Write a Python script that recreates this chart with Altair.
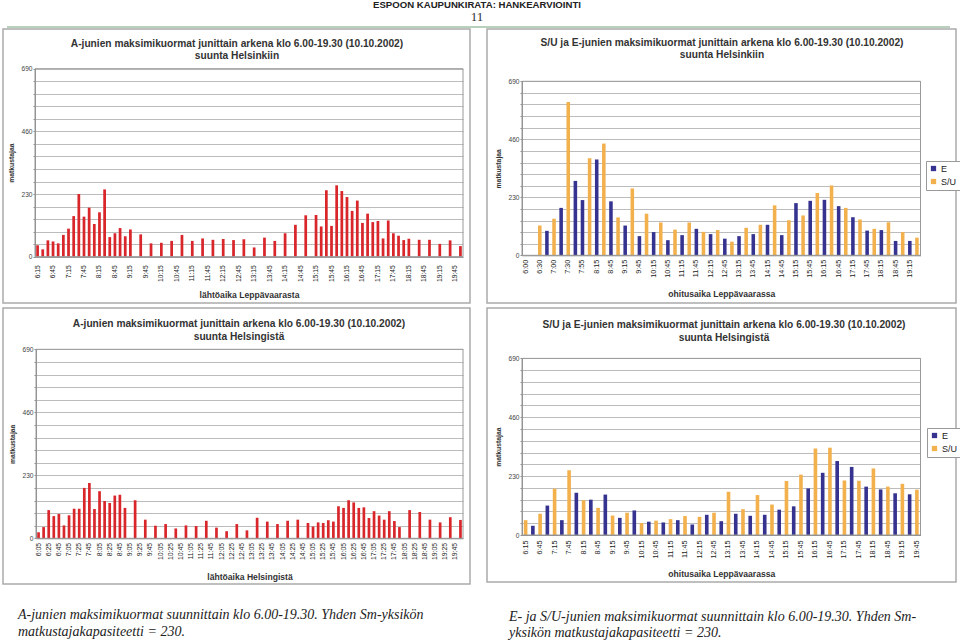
import altair as alt
import pandas as pd

W, H = 960, 642
RED = "#d8262b"
BLUE = "#35338f"
ORANGE = "#f2b14d"
SANS = "Liberation Sans"
SERIF = "Liberation Serif"


def slots(start, end, step):
    h, m = map(int, start.split(":"))
    eh, em = map(int, end.split(":"))
    t, out = h * 60 + m, []
    while t <= eh * 60 + em:
        out.append(f"{t // 60}:{t % 60:02d}")
        t += step
    return out


# ---------------- data ----------------
# A-trains towards Helsinki (departure from Leppävaara)
tl_times = ["6:15", "6:25", "6:35", "6:45", "6:55", "7:05", "7:15", "7:25", "7:35", "7:45",
            "7:55", "8:05", "8:15", "8:25", "8:35", "8:45", "8:55", "9:05", "9:15",
            "9:35", "9:55", "10:15", "10:35", "10:55", "11:15", "11:35", "11:55", "12:15",
            "12:35", "12:55", "13:15", "13:35", "13:55", "14:15", "14:35", "14:55", "15:15",
            "15:25", "15:35", "15:45", "15:55", "16:05", "16:15", "16:25", "16:35", "16:45",
            "16:55", "17:05", "17:15", "17:25", "17:35", "17:45", "17:55", "18:05", "18:15",
            "18:35", "18:55", "19:15", "19:35", "19:55"]
tl_loads = [42, 27, 60, 56, 49, 80, 103, 149, 230, 147,
            180, 120, 163, 247, 72, 86, 105, 75, 100,
            82, 49, 51, 58, 80, 58, 67, 62, 65,
            61, 64, 34, 70, 58, 86, 117, 152, 153,
            111, 244, 113, 262, 241, 219, 168, 206, 124,
            158, 127, 131, 67, 133, 86, 77, 61, 66,
            62, 62, 47, 60, 39]
tl_domain = slots("6:15", "19:55", 10)
tl_ticks = tl_domain[::3]

# S/U and E trains towards Helsinki
tr_domain = ["6:00", "6:15", "6:30", "6:45", "7:00", "7:15", "7:30", "7:45", "7:55", "8:05",
             "8:15", "8:30", "8:45", "9:00", "9:15", "9:30", "9:45", "10:00", "10:15", "10:30",
             "10:45", "11:00", "11:15", "11:30", "11:45", "12:00", "12:15", "12:30", "12:45",
             "13:00", "13:15", "13:30", "13:45", "14:00", "14:15", "14:30", "14:45", "15:00",
             "15:15", "15:30", "15:45", "16:00", "16:15", "16:30", "16:45", "17:00", "17:15",
             "17:30", "17:45", "18:00", "18:15", "18:30", "18:45", "19:00", "19:15", "19:30"]
tr_ticks = tr_domain[::2]
tr_times = tr_domain[2:]
tr_types = ["S/U", "E", "S/U", "E", "S/U", "E", "E", "S/U", "E", "S/U",
            "E", "S/U", "E", "S/U", "E", "S/U", "E", "S/U", "E", "S/U",
            "E", "S/U", "E", "S/U", "E", "S/U", "E", "S/U", "E", "S/U",
            "E", "S/U", "E", "S/U", "E", "S/U", "E", "S/U", "E", "S/U",
            "E", "S/U", "E", "S/U", "E", "S/U", "E", "S/U", "E", "S/U",
            "E", "S/U", "E", "S/U"]
tr_loads = [118, 97, 145, 188, 608, 295, 219, 385, 380, 443,
            214, 150, 118, 265, 76, 165, 92, 130, 60, 102,
            80, 130, 105, 93, 84, 100, 66, 54, 76, 109,
            84, 121, 121, 198, 80, 139, 207, 158, 216, 247,
            220, 277, 195, 188, 151, 142, 98, 105, 100, 131,
            57, 92, 57, 70]

# A-trains from Helsinki
bl_times = ["6:05", "6:15", "6:25", "6:35", "6:45", "6:55", "7:05", "7:15", "7:25", "7:35",
            "7:45", "7:55", "8:05", "8:15", "8:25", "8:35", "8:45", "8:55",
            "9:15", "9:35", "9:55", "10:15", "10:35", "10:55", "11:15", "11:35", "11:55",
            "12:15", "12:35", "12:55", "13:15", "13:35", "13:55", "14:15", "14:35", "14:55",
            "15:05", "15:15", "15:25", "15:35", "15:45", "15:55", "16:05", "16:15", "16:25",
            "16:35", "16:45", "16:55", "17:05", "17:15", "17:25", "17:35", "17:45", "17:55",
            "18:15", "18:35", "18:55", "19:15", "19:35", "19:55"]
bl_loads = [22, 41, 103, 81, 89, 47, 84, 108, 108, 184,
            202, 107, 172, 136, 129, 156, 159, 111,
            139, 68, 46, 52, 36, 47, 45, 64, 39,
            26, 52, 29, 75, 61, 52, 64, 68, 56,
            43, 58, 56, 66, 61, 117, 111, 139, 131,
            111, 113, 74, 99, 83, 68, 99, 63, 41,
            103, 96, 68, 58, 77, 67]
bl_domain = slots("6:05", "19:55", 10)
bl_ticks = bl_domain[::2]

# S/U and E trains from Helsinki
br_domain = slots("6:15", "19:45", 15)
br_ticks = br_domain[::2]
br_times = br_domain
br_types = ["S/U", "E"] * 27 + ["S/U"]
br_loads = [58, 36, 83, 115, 181, 58, 253, 165, 136, 138,
            106, 158, 76, 67, 87, 96, 47, 52, 56, 49,
            62, 58, 74, 41, 71, 79, 87, 54, 169, 83,
            101, 75, 156, 79, 119, 99, 211, 112, 236, 182,
            338, 243, 341, 289, 213, 266, 212, 189, 260, 178,
            189, 163, 200, 159, 177]

GRID = [0, 46, 92, 138, 184, 230, 276, 322, 368, 414, 460, 506, 552, 598, 644, 690]

one = pd.DataFrame({"k": [0]})


def bars(times, loads, types, domain, ticks, x0, x1, y0, y1, xtitle,
         lab_pad, lab_size, pad_in, legend_xy=None):
    df = pd.DataFrame({"aika": times, "kuorma": loads, "juna": types})
    xa = alt.Axis(orient="bottom", offset=y0 - H, values=ticks, labelAngle=270,
                  labelAlign="right", labelBaseline="middle", labelFont=SANS,
                  labelFontSize=lab_size, labelColor="#222", labelPadding=lab_pad,
                  labelOverlap=False, ticks=False, domainColor="#8c8c8c", grid=False,
                  title=xtitle, titleFont=SANS, titleFontSize=8.6, titleFontWeight="bold",
                  titleColor="#333", titleY=38, titleBaseline="middle")
    ya = alt.Axis(orient="left", offset=-x0, values=GRID,
                  labelExpr="datum.value % 230 === 0 ? datum.label : ''",
                  grid=True, gridColor="#bcbcbc", gridWidth=1, domainColor="#8c8c8c",
                  tickColor="#8c8c8c", tickSize=2, labelFont=SANS, labelFontSize=6.6,
                  labelColor="#444", labelPadding=1, title="matkustajaa", titleFont=SANS,
                  titleFontSize=6.8, titleFontWeight="bold", titleColor="#333",
                  titleX=-24, titleAngle=270, titleBaseline="middle", titleAlign="center")
    if legend_xy:
        color = alt.Color("juna:N", title=None,
                          scale=alt.Scale(domain=["E", "S/U"], range=[BLUE, ORANGE]),
                          legend=alt.Legend(orient="none", legendX=legend_xy[0],
                                            legendY=legend_xy[1], direction="vertical",
                                            fillColor="white", strokeColor="#999",
                                            padding=3, symbolType="square", symbolSize=28,
                                            symbolStrokeWidth=0, labelFont=SANS,
                                            labelFontSize=9, labelColor="#222",
                                            rowPadding=3, labelOffset=3))
    else:
        color = alt.value(RED)
    return alt.Chart(df).mark_bar().encode(
        x=alt.X("aika:N", scale=alt.Scale(domain=domain, range=[x0, x1],
                                          paddingInner=pad_in, paddingOuter=pad_in / 2),
                axis=xa),
        y=alt.Y("kuorma:Q", scale=alt.Scale(domain=[0, 690], range=[y0, y1], nice=False),
                axis=ya),
        color=color,
    )


def text(s, x, y, size, font=SANS, weight="normal", style="normal", align="center",
         color="#333"):
    return alt.Chart(one).mark_text(text=s, font=font, fontSize=size, fontWeight=weight,
                                    fontStyle=style, align=align, baseline="middle",
                                    color=color).encode(x=alt.value(x), y=alt.value(y))


def box(x0, x1, y0, y1, color, width):
    return alt.Chart(one).mark_rect(fillOpacity=0, stroke=color, strokeWidth=width).encode(
        x=alt.value(x0), x2=alt.value(x1), y=alt.value(y0), y2=alt.value(y1))


T1A = "A-junien maksimikuormat junittain arkena klo 6.00-19.30 (10.10.2002)"
T1B = "S/U ja E-junien maksimikuormat junittain arkena klo 6.00-19.30 (10.10.2002)"

layers = [
    text("ESPOON KAUPUNKIRATA: HANKEARVIOINTI", 477, 5, 9.6, weight="bold", color="#222"),
    text("11", 477, 17, 13, font=SERIF, color="#333"),
    alt.Chart(one).mark_rule(color="#b9d0bd", strokeWidth=2).encode(
        x=alt.value(7), x2=alt.value(950), y=alt.value(27)),
    box(3, 470, 29, 303, "#ababab", 1.5),
    box(487, 956, 29, 303, "#ababab", 1.5),
    box(3, 470, 308, 584, "#ababab", 1.5),
    box(487, 956, 308, 582, "#ababab", 1.5),
    text(T1A, 237, 44, 10.2, weight="bold"),
    text("suunta Helsinkiin", 237, 56, 10.2, weight="bold"),
    text(T1B, 722, 43, 10.2, weight="bold"),
    text("suunta Helsinkiin", 722, 55, 10.2, weight="bold"),
    text(T1A, 239, 324, 10.2, weight="bold"),
    text("suunta Helsingistä", 239, 337, 10.2, weight="bold"),
    text(T1B, 724, 325, 10.2, weight="bold"),
    text("suunta Helsingistä", 724, 338, 10.2, weight="bold"),
    bars(tl_times, tl_loads, ["A"] * len(tl_times), tl_domain, tl_ticks,
         35, 463, 256.7, 68.7, "lähtöaika Leppävaarasta", 8, 6.7, 0.47),
    bars(tr_times, tr_loads, tr_types, tr_domain, tr_ticks,
         522, 920.5, 255.3, 81.3, "ohitusaika Leppävaarassa", 4, 7.2, 0.5, (926, 161)),
    bars(bl_times, bl_loads, ["A"] * len(bl_times), bl_domain, bl_ticks,
         36, 463, 538.3, 349.3, "lähtöaika Helsingistä", 4, 6.9, 0.47),
    bars(br_times, br_loads, br_types, br_domain, br_ticks,
         522, 920.5, 535, 358.4, "ohitusaika Leppävaarassa", 5, 7.2, 0.5, (927, 428)),
    box(35, 463, 68.7, 256.7, "#9a9a9a", 1),
    box(522, 920.5, 81.3, 255.3, "#9a9a9a", 1),
    box(36, 463, 349.3, 538.3, "#9a9a9a", 1),
    box(522, 920.5, 358.4, 535, "#9a9a9a", 1),
    text("A-junien maksimikuormat suunnittain klo 6.00-19.30. Yhden Sm-yksikön",
         18, 615, 14, font=SERIF, style="italic", align="left", color="#222"),
    text("matkustajakapasiteetti = 230.", 18, 632, 14, font=SERIF, style="italic",
         align="left", color="#222"),
    text("E- ja S/U-junien maksimikuormat suunnittain klo 6.00-19.30. Yhden Sm-",
         509, 617, 14, font=SERIF, style="italic", align="left", color="#222"),
    text("yksikön matkustajakapasiteetti = 230.", 509, 633, 14, font=SERIF,
         style="italic", align="left", color="#222"),
]

chart = alt.layer(*layers).resolve_scale(
    x="independent", y="independent", color="independent"
).resolve_axis(x="independent", y="independent").resolve_legend(
    color="independent"
).properties(
    width=W, height=H, padding=0, background="white",
    autosize=alt.AutoSizeParams(type="none"),
).configure_view(stroke="transparent")

chart.save("out.html", embed_options={"renderer": "svg", "actions": False})
